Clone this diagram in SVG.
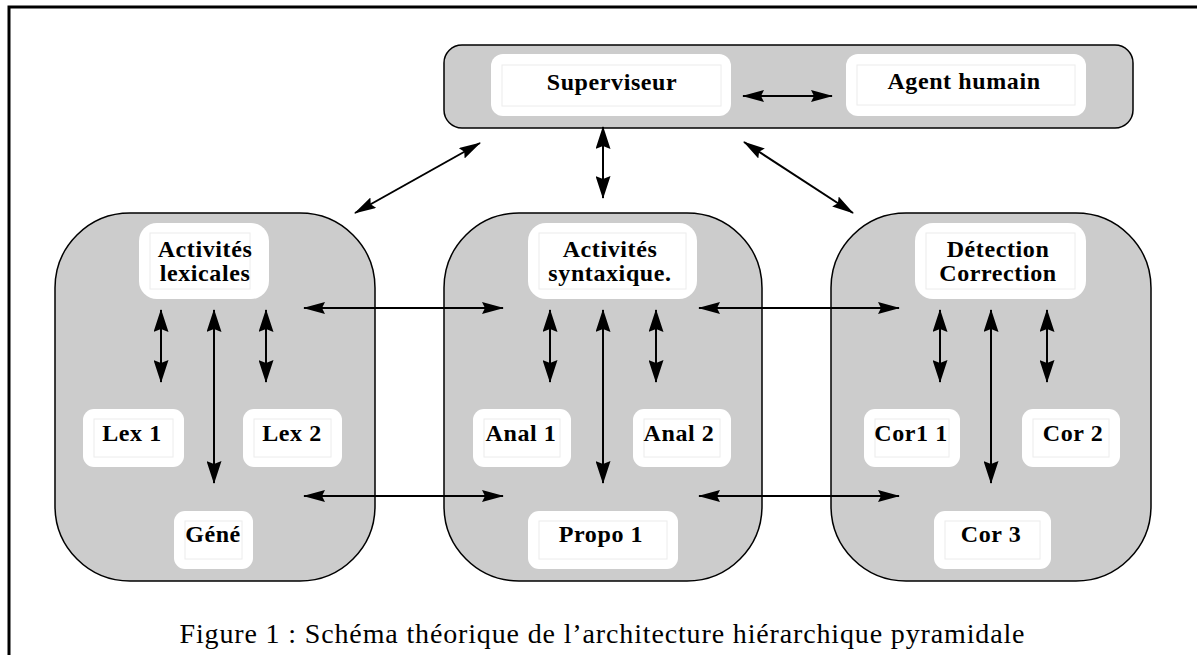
<svg xmlns="http://www.w3.org/2000/svg" width="1197" height="655" viewBox="0 0 1197 655">
<style>
.frame{fill:none;stroke:#000;stroke-width:3}
.cont{fill:#cccccc;stroke:#000;stroke-width:1.5}
.box{fill:#fff;stroke:none}
.inner{fill:none;stroke:#ececec;stroke-width:1}
.lbl{font-family:"Liberation Serif","Times New Roman",serif;font-weight:bold;font-size:24px;letter-spacing:0.6px;text-anchor:middle;fill:#000}
.cap{font-family:"Liberation Serif","Times New Roman",serif;font-size:28px;text-anchor:middle;fill:#000}
.ar{fill:none;stroke:#000;stroke-width:2;marker-start:url(#ah);marker-end:url(#ah)}
.av{fill:none;stroke:#000;stroke-width:2;marker-start:url(#av);marker-end:url(#av)}
</style>
<defs>
<marker id="ah" viewBox="0 0 22 12" refX="21" refY="6" markerWidth="22" markerHeight="12" markerUnits="userSpaceOnUse" orient="auto-start-reverse"><path d="M0,0 L22,6 L0,12 L3,6 z" fill="#000"/></marker>
<marker id="av" viewBox="0 0 23 15" refX="22" refY="7.5" markerWidth="23" markerHeight="15" markerUnits="userSpaceOnUse" orient="auto-start-reverse"><path d="M0,0 L23,7.5 L0,15 L3,7.5 z" fill="#000"/></marker>
</defs>
<rect x="0" y="0" width="1197" height="655" fill="#fff"/>
<rect class="frame" x="9" y="7" width="1200" height="700"/>

<g id="top">
<rect class="cont" x="444" y="45" width="689" height="83" rx="18"/>
</g>
<g id="superviseur">
<rect class="box" x="491" y="54" width="240" height="62" rx="12"/>
<rect class="inner" x="502" y="65" width="219" height="41"/>
<text class="lbl" x="612" y="90">Superviseur</text>
</g>
<g id="agent">
<rect class="box" x="846" y="54" width="240" height="62" rx="12"/>
<rect class="inner" x="857" y="65" width="218" height="40"/>
<text class="lbl" x="964" y="89">Agent humain</text>
</g>

<g id="lexical">
<rect class="cont" x="55" y="213" width="320" height="368" rx="75"/>
</g>
<g id="act-lex">
<rect class="box" x="139" y="223" width="130" height="76" rx="18"/>
<rect class="inner" x="150" y="233" width="100" height="56"/>
<text class="lbl" x="205" y="257">Activités</text>
<text class="lbl" x="205" y="281">lexicales</text>
</g>
<g id="lex1">
<rect class="box" x="83" y="409" width="101" height="58" rx="11"/>
<rect class="inner" x="94" y="419" width="79" height="38"/>
<text class="lbl" x="132" y="441">Lex 1</text>
</g>
<g id="lex2">
<rect class="box" x="243" y="409" width="99" height="58" rx="11"/>
<rect class="inner" x="254" y="419" width="77" height="38"/>
<text class="lbl" x="292" y="441">Lex 2</text>
</g>
<g id="gene">
<rect class="box" x="174" y="511" width="79" height="58" rx="11"/>
<rect class="inner" x="185" y="521" width="57" height="38"/>
<text class="lbl" x="213" y="542">Géné</text>
</g>

<g id="syntax">
<rect class="cont" x="444" y="213" width="318" height="368" rx="75"/>
</g>
<g id="act-syn">
<rect class="box" x="528" y="223" width="169" height="76" rx="18"/>
<rect class="inner" x="539" y="233" width="147" height="56"/>
<text class="lbl" x="610" y="257">Activités</text>
<text class="lbl" x="610" y="281">syntaxique.</text>
</g>
<g id="anal1">
<rect class="box" x="473" y="409" width="98" height="58" rx="11"/>
<rect class="inner" x="484" y="419" width="76" height="38"/>
<text class="lbl" x="521" y="441">Anal 1</text>
</g>
<g id="anal2">
<rect class="box" x="633" y="409" width="98" height="58" rx="11"/>
<rect class="inner" x="644" y="419" width="76" height="38"/>
<text class="lbl" x="679" y="441">Anal 2</text>
</g>
<g id="propo1">
<rect class="box" x="528" y="511" width="150" height="58" rx="11"/>
<rect class="inner" x="539" y="521" width="128" height="38"/>
<text class="lbl" x="601" y="542">Propo 1</text>
</g>

<g id="correction">
<rect class="cont" x="831" y="213" width="320" height="368" rx="75"/>
</g>
<g id="det-cor">
<rect class="box" x="915" y="223" width="171" height="76" rx="18"/>
<rect class="inner" x="926" y="233" width="149" height="56"/>
<text class="lbl" x="998" y="257">Détection</text>
<text class="lbl" x="998" y="281">Correction</text>
</g>
<g id="cor11">
<rect class="box" x="864" y="409" width="96" height="58" rx="11"/>
<rect class="inner" x="875" y="419" width="74" height="38"/>
<text class="lbl" x="911" y="441">Cor1 1</text>
</g>
<g id="cor2">
<rect class="box" x="1022" y="409" width="98" height="58" rx="11"/>
<rect class="inner" x="1033" y="419" width="76" height="38"/>
<text class="lbl" x="1073" y="441">Cor 2</text>
</g>
<g id="cor3">
<rect class="box" x="934" y="511" width="117" height="58" rx="11"/>
<rect class="inner" x="945" y="521" width="95" height="38"/>
<text class="lbl" x="991" y="542">Cor 3</text>
</g>

<g id="connectors">
<line class="ar" x1="743" y1="96" x2="832" y2="96"/>
<line class="av" x1="603" y1="127" x2="603" y2="198"/>
<line class="ar" x1="355" y1="213" x2="480" y2="143"/>
<line class="ar" x1="744" y1="142" x2="853" y2="213"/>

<line class="av" x1="161" y1="310" x2="161" y2="382"/>
<line class="av" x1="266" y1="310" x2="266" y2="382"/>
<line class="av" x1="214" y1="310" x2="214" y2="483"/>

<line class="av" x1="550" y1="310" x2="550" y2="382"/>
<line class="av" x1="656" y1="310" x2="656" y2="382"/>
<line class="av" x1="603" y1="310" x2="603" y2="483"/>

<line class="av" x1="940" y1="310" x2="940" y2="382"/>
<line class="av" x1="1047" y1="310" x2="1047" y2="382"/>
<line class="av" x1="991" y1="310" x2="991" y2="483"/>

<line class="ar" x1="304" y1="308" x2="503" y2="308"/>
<line class="ar" x1="304" y1="496" x2="503" y2="496"/>
<line class="ar" x1="699" y1="308" x2="899" y2="308"/>
<line class="ar" x1="699" y1="496" x2="899" y2="496"/>
</g>

<text class="cap" x="602" y="643" textLength="845" lengthAdjust="spacing">Figure 1 : Schéma théorique de l’architecture hiérarchique pyramidale</text>
</svg>
